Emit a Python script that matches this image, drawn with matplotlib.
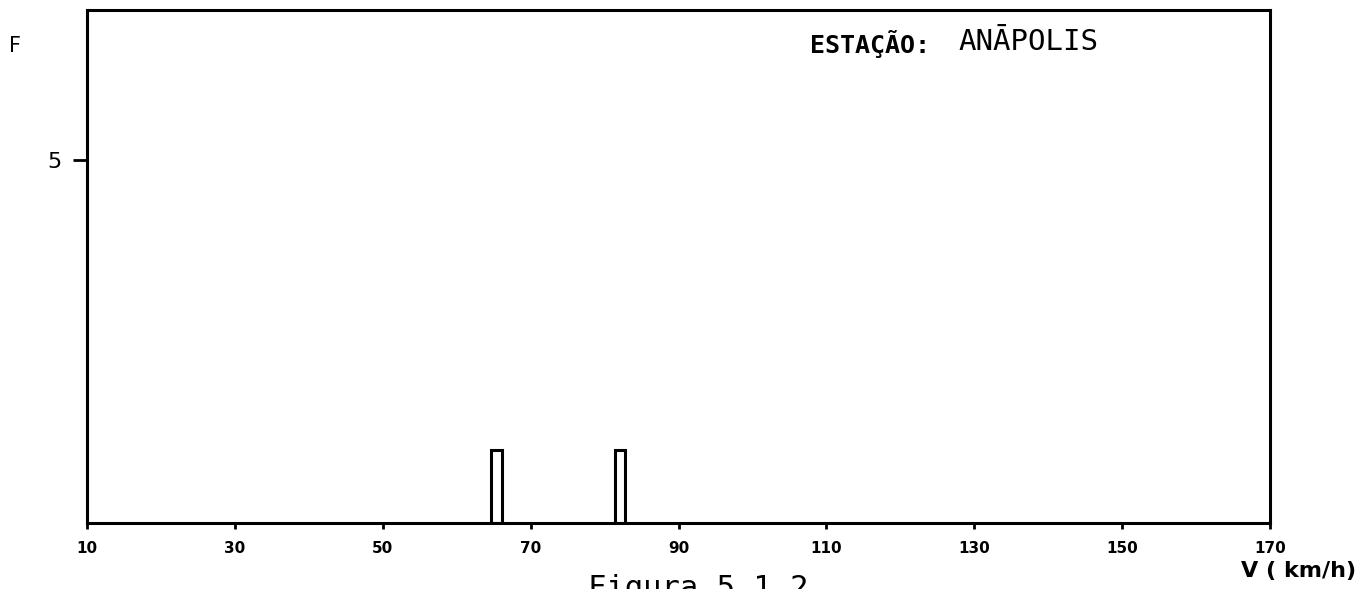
import numpy as np
import matplotlib
matplotlib.use("Agg")
import matplotlib.pyplot as plt

# speed classes (km/h) and frequency
velocidade = [65.4, 82.1]
frequencia = [1, 1]
largura = 1.4

xticks = [10, 30, 50, 70, 90, 110, 130, 150, 170]
yticks = [5]

fig = plt.figure(figsize=(13.63, 5.89), dpi=100)
ax = fig.add_axes([0.0638, 0.112, 0.868, 0.871])

ax.bar(velocidade, frequencia, width=largura, color="white",
       edgecolor="black", linewidth=2.2)

ax.set_xlim(10, 170)
ax.set_ylim(0, 7.07)
ax.set_xticks(xticks)
ax.set_xticklabels([str(t) for t in xticks], fontsize=11, fontweight="bold")
ax.set_yticks(yticks)
ax.set_yticklabels(["5"], fontsize=16)
ax.tick_params(axis="x", direction="out", length=4, width=2, pad=9)
ax.tick_params(axis="y", direction="out", length=10, width=2, pad=8)
for s in ax.spines.values():
    s.set_linewidth(2.2)

fig.text(9 / 1363, 1 - 46 / 589, "F", fontsize=15, va="center", ha="left")
fig.text(810 / 1363, 1 - 44 / 589, "ESTAÇÃO:", family="DejaVu Sans Mono",
         fontsize=18, fontweight="bold", va="center", ha="left")
fig.text(958 / 1363, 1 - 42 / 589, "ANĀPOLIS", family="DejaVu Sans Mono",
         fontsize=21, va="center", ha="left")
fig.text(1356 / 1363, 1 - 571 / 589, "V ( km/h)", fontsize=16,
         fontweight="bold", va="center", ha="right")
fig.text(588 / 1363, 1 - 574 / 589, "Figura 5.1.2", family="DejaVu Sans Mono",
         fontsize=22, va="top", ha="left")

fig.savefig("out.png", dpi=100)
